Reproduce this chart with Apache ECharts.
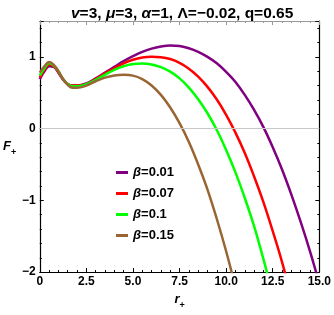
<!DOCTYPE html>
<html>
<head>
<meta charset="utf-8">
<script src="https://cdn.jsdelivr.net/npm/echarts@6/dist/echarts.min.js"></script>
<style>
html,body{margin:0;padding:0;background:#fff;}
#c{width:334px;height:315px;}
</style>
</head>
<body>
<div id="c"></div>
<script>
const rValues = [0,0.25,0.5,0.75,1,1.25,1.5,1.75,2,2.5,3,3.5,4,4.5,5,5.5,6,6.5,7,7.5,8,8.5,9,9.5,10,10.5,11,11.5,12,12.5,13,13.5,14,14.5,15];
const seriesNames = ['β=0.01','β=0.07','β=0.1','β=0.15'];
const seriesColors = ['#800080','#ff0000','#00ff00','#996633'];
const fBeta001 = [0.69,0.80,0.87,0.86,0.78,0.68,0.62,0.60,0.60,0.63,0.70,0.78,0.86,0.94,1.01,1.07,1.115,1.145,1.16,1.15,1.12,1.07,1.00,0.91,0.79,0.65,0.47,0.26,0.02,-0.26,-0.57,-0.92,-1.30,-1.71,-2.16];
const fBeta007 = [0.71,0.82,0.89,0.87,0.79,0.69,0.62,0.60,0.60,0.62,0.69,0.77,0.84,0.91,0.96,0.99,1.00,0.995,0.97,0.917,0.836,0.725,0.582,0.405,0.192,-0.056,-0.34,-0.667,-1.025,-1.43,-1.86,-2.35];
const fBeta01  = [0.74,0.84,0.91,0.88,0.80,0.69,0.62,0.59,0.59,0.62,0.68,0.75,0.82,0.87,0.90,0.909,0.895,0.858,0.794,0.70,0.572,0.41,0.214,-0.02,-0.297,-0.61,-0.966,-1.36,-1.82,-2.31];
const fBeta015 = [0.78,0.87,0.93,0.89,0.80,0.69,0.61,0.57,0.57,0.60,0.66,0.71,0.74,0.75,0.739,0.691,0.602,0.47,0.294,0.076,-0.186,-0.50,-0.85,-1.26,-1.71,-2.21];
const xTicks = {min:0, max:15, interval:2.5};
const yTicks = {min:-2, max:1.5, interval:1};

const allF = [fBeta001, fBeta007, fBeta01, fBeta015];
const font = 'Liberation Sans, Arial, sans-serif';

const series = allF.map((arr, i) => ({
  name: seriesNames[i],
  type: 'line',
  smooth: 0.4,
  showSymbol: false,
  symbol: 'none',
  clip: true,
  data: arr.map((v, k) => [rValues[k], v]),
  lineStyle: {color: seriesColors[i], width: 2.5},
  itemStyle: {color: seriesColors[i]},
  z: 3,
  markLine: i === 0 ? {
    silent: true, symbol: 'none', animation: false,
    label: {show: false},
    lineStyle: {color: '#c8c8c8', width: 1, type: 'solid'},
    data: [{yAxis: 0}]
  } : undefined
}));

const minus = s => String(s).replace('-', '−');

const chart = echarts.init(document.getElementById('c'), null, {renderer: 'canvas'});
chart.setOption({
  animation: false,
  backgroundColor: '#fff',
  title: {
    text: '{i|v}{n|=3, }{i|μ}{n|=3, }{i|α}{n|=1, Λ=−0.02, q=0.65}',
    left: 66, top: 1,
    textStyle: {
      rich: {
        i: {fontFamily: font, fontSize: 15.5, fontWeight: 'bold', fontStyle: 'italic', color: '#000'},
        n: {fontFamily: font, fontSize: 15.5, fontWeight: 'bold', color: '#000'}
      }
    }
  },
  grid: {left: 36, right: 14, top: 21, bottom: 38, containLabel: false},
  legend: {
    orient: 'vertical', left: 116, top: 166, padding: 0, itemGap: 8,
    itemWidth: 12, itemHeight: 3, icon: 'rect',
    data: seriesNames,
    formatter: name => '{i|β}{n|=' + name.split('=')[1] + '}',
    textStyle: {
      rich: {
        i: {fontFamily: font, fontSize: 13, fontWeight: 'bold', fontStyle: 'italic', color: '#000'},
        n: {fontFamily: font, fontSize: 13, fontWeight: 'bold', color: '#000'}
      }
    }
  },
  xAxis: [{
    type: 'value', min: xTicks.min, max: xTicks.max, interval: xTicks.interval,
    position: 'bottom',
    axisLine: {show: true, onZero: false, lineStyle: {color: '#000', width: 1.2}},
    axisTick: {show: true, inside: true, length: 4, lineStyle: {color: '#000'}},
    minorTick: {show: true, splitNumber: 5, length: 2, lineStyle: {color: '#000'}},
    splitLine: {show: false},
    axisLabel: {fontFamily: font, fontSize: 12, fontWeight: 'bold', color: '#000', margin: 4,
      formatter: v => v === 0 ? '0' : v.toFixed(1)},
    name: '{i|r}{s|+}', nameLocation: 'middle', nameGap: 19,
    nameTextStyle: {rich: {
      i: {fontFamily: font, fontSize: 13, fontWeight: 'bold', fontStyle: 'italic', color: '#000', verticalAlign: 'top', lineHeight: 14},
      s: {fontFamily: font, fontSize: 9, fontWeight: 'bold', color: '#000', verticalAlign: 'top', lineHeight: 9, padding: [8,0,0,0]}
    }}
  }, {
    type: 'value', min: xTicks.min, max: xTicks.max, interval: xTicks.interval,
    position: 'top',
    axisLine: {show: true, onZero: false, lineStyle: {color: '#999', width: 1}},
    axisTick: {show: true, inside: true, length: 4, lineStyle: {color: '#999'}},
    minorTick: {show: true, splitNumber: 5, length: 2, lineStyle: {color: '#999'}},
    splitLine: {show: false},
    axisLabel: {show: false}
  }],
  yAxis: [{
    type: 'value', min: yTicks.min, max: yTicks.max, interval: yTicks.interval,
    position: 'left',
    axisLine: {show: true, onZero: false, lineStyle: {color: '#000', width: 1.2}},
    axisTick: {show: true, inside: true, length: 4, lineStyle: {color: '#000'}},
    minorTick: {show: true, splitNumber: 5, length: 2, lineStyle: {color: '#000'}},
    splitLine: {show: false},
    axisLabel: {fontFamily: font, fontSize: 12, fontWeight: 'bold', color: '#000', margin: 4,
      showMaxLabel: false, formatter: v => minus(v)},
    name: '{i|F}{s|+}', nameLocation: 'middle', nameGap: 14, nameRotate: 0,
    nameTextStyle: {rich: {
      i: {fontFamily: font, fontSize: 13, fontWeight: 'bold', fontStyle: 'italic', color: '#000', verticalAlign: 'top', lineHeight: 14},
      s: {fontFamily: font, fontSize: 9, fontWeight: 'bold', color: '#000', verticalAlign: 'top', lineHeight: 9, padding: [8,0,0,0]}
    }}
  }, {
    type: 'value', min: yTicks.min, max: yTicks.max, interval: yTicks.interval,
    position: 'right',
    axisLine: {show: true, onZero: false, lineStyle: {color: '#000', width: 1.2}},
    axisTick: {show: true, inside: true, length: 4, lineStyle: {color: '#000'}},
    minorTick: {show: true, splitNumber: 5, length: 2, lineStyle: {color: '#000'}},
    splitLine: {show: false},
    axisLabel: {show: false}
  }],
  series: series
});
</script>
</body>
</html>
